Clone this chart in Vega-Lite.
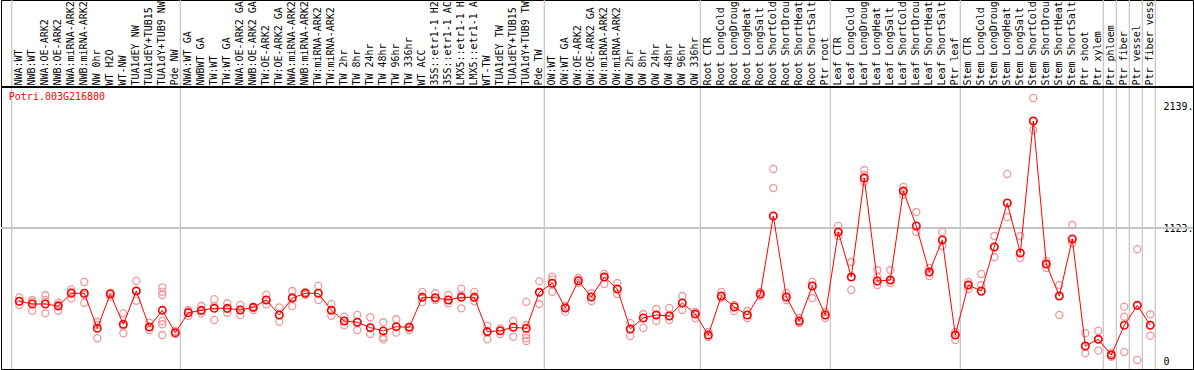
{
  "$schema": "https://vega.github.io/schema/vega-lite/v6.json",
  "width": 1192,
  "height": 369,
  "autosize": "none",
  "padding": {"left": 1, "top": 0, "right": 1, "bottom": 1},
  "background": "white",
  "config": {
    "view": {"stroke": "black", "strokeWidth": 1},
    "font": "DejaVu Sans Mono",
    "axis": {"labelFont": "DejaVu Sans Mono", "labelFontSize": 10, "labelColor": "black"}
  },
  "datasets": {
    "samples": [
      {"id":"NWA:WT","m":509,"r":[542,509,478],"sep":"b"},
      {"id":"NWB:WT","m":486,"r":[520,503,430]},
      {"id":"NWA:OE-ARK2","m":486,"r":[559,520,408]},
      {"id":"NWB:OE-ARK2","m":469,"r":[497,478,430]},
      {"id":"NWA:miRNA-ARK2","m":576,"r":[609,587,531]},
      {"id":"NWB:miRNA-ARK2","m":576,"r":[671,562,497]},
      {"id":"NW 0hr","m":282,"r":[335,310,199]},
      {"id":"WT H2O","m":570,"r":[581,570,547]},
      {"id":"WT-NW","m":316,"r":[408,302,241]},
      {"id":"TUA1dEY NW","m":595,"r":[679,595,514]},
      {"id":"TUA1dEY+TUB15 NW","m":293,"r":[329,293,268]},
      {"id":"TUA1dY+TUB9 NW","m":433,"r":[626,589,562,344,316,226]},
      {"id":"Pde NW","m":246,"r":[260,243,235],"sep":"a"},
      {"id":"NWA:WT GA","m":413,"r":[436,425,386]},
      {"id":"NWBWT GA","m":433,"r":[469,427,408]},
      {"id":"TW:WT","m":450,"r":[526,469,352]},
      {"id":"TW:WT GA","m":450,"r":[492,444,413]},
      {"id":"NWA:OE-ARK2 GA","m":436,"r":[478,436,394]},
      {"id":"NWB:OE-ARK2 GA","m":458,"r":[464,453,436]},
      {"id":"TW:OE-ARK2","m":520,"r":[564,520,484]},
      {"id":"TW:OE-ARK2 GA","m":394,"r":[458,394,338]},
      {"id":"NWA:miRNA-ARK2 GA","m":536,"r":[595,545,469]},
      {"id":"NWB:miRNA-ARK2 GA","m":576,"r":[587,576,562]},
      {"id":"TW:miRNA-ARK2","m":576,"r":[637,578,520]},
      {"id":"TW:miRNA-ARK2 GA","m":433,"r":[484,436,388]},
      {"id":"TW 2hr","m":344,"r":[380,344,308]},
      {"id":"TW 8hr","m":333,"r":[394,335,268]},
      {"id":"TW 24hr","m":288,"r":[375,285,235]},
      {"id":"TW 48hr","m":260,"r":[333,207,190]},
      {"id":"TW 96hr","m":296,"r":[358,293,246]},
      {"id":"TW 336hr","m":291,"r":[296,291,268]},
      {"id":"WT ACC","m":542,"r":[587,545,503]},
      {"id":"35S::etr1-1 H2O","m":539,"r":[576,536,520]},
      {"id":"35S::etr1-1 ACC","m":520,"r":[562,520,492]},
      {"id":"LMX5::etr1-1 H2O","m":542,"r":[614,562,450]},
      {"id":"LMX5::etr1-1 ACC","m":542,"r":[587,545,509]},
      {"id":"WT-TW","m":254,"r":[304,260,190]},
      {"id":"TUA1dEY TW","m":262,"r":[282,260,235]},
      {"id":"TUA1dEY+TUB15 TW","m":291,"r":[344,293,212]},
      {"id":"TUA1dY+TUB9 TW","m":282,"r":[505,310,226,199,176]},
      {"id":"Pde TW","m":584,"r":[676,587,486],"sep":"a"},
      {"id":"OW:WT","m":660,"r":[715,693,589]},
      {"id":"OW:WT GA","m":453,"r":[469,453,422]},
      {"id":"OW:OE-ARK2","m":681,"r":[704,679,662]},
      {"id":"OW:OE-ARK2 GA","m":545,"r":[578,545,511]},
      {"id":"OW:miRNA-ARK2","m":712,"r":[738,712,654]},
      {"id":"OW:miRNA-ARK2 GA","m":612,"r":[662,612,570]},
      {"id":"OW 2hr","m":277,"r":[327,277,218]},
      {"id":"OW 8hr","m":369,"r":[402,369,285]},
      {"id":"OW 24hr","m":394,"r":[444,394,344]},
      {"id":"OW 48hr","m":386,"r":[453,386,352]},
      {"id":"OW 96hr","m":495,"r":[553,495,436]},
      {"id":"OW 336hr","m":402,"r":[419,402,369],"sep":"a"},
      {"id":"Root CTR","m":226,"r":[251,226,210]},
      {"id":"Root LongCold","m":553,"r":[587,553,536]},
      {"id":"Root LongDrought","m":461,"r":[478,461,427]},
      {"id":"Root LongHeat","m":394,"r":[427,394,369]},
      {"id":"Root LongSalt","m":570,"r":[587,570,553]},
      {"id":"Root ShortCold","m":1224,"r":[1618,1458,1224]},
      {"id":"Root ShortDrought","m":545,"r":[578,545,520]},
      {"id":"Root ShortHeat","m":344,"r":[369,344,327]},
      {"id":"Root ShortSalt","m":637,"r":[671,637,536]},
      {"id":"Ptr root","m":394,"r":[419,394,369],"sep":"a"},
      {"id":"Leaf CTR","m":1090,"r":[1140,1090,1056]},
      {"id":"Leaf LongCold","m":712,"r":[838,712,604]},
      {"id":"Leaf LongDrought","m":1542,"r":[1609,1567,1509]},
      {"id":"Leaf LongHeat","m":679,"r":[771,712,645]},
      {"id":"Leaf LongSalt","m":687,"r":[771,687,662]},
      {"id":"Leaf ShortCold","m":1433,"r":[1467,1433,1400]},
      {"id":"Leaf ShortDrought","m":1140,"r":[1257,1140,1090]},
      {"id":"Leaf ShortHeat","m":754,"r":[788,754,721]},
      {"id":"Leaf ShortSalt","m":1023,"r":[1090,1023,972]},
      {"id":"Ptr leaf","m":226,"r":[251,226,184],"sep":"a"},
      {"id":"Stem CTR","m":645,"r":[671,645,612]},
      {"id":"Stem LongCold","m":595,"r":[738,645,587]},
      {"id":"Stem LongDrought","m":964,"r":[1056,964,880]},
      {"id":"Stem LongHeat","m":1333,"r":[1576,1333,1215]},
      {"id":"Stem LongSalt","m":914,"r":[1056,914,872]},
      {"id":"Stem ShortCold","m":2020,"r":[2213,2020,1945]},
      {"id":"Stem ShortDrought","m":821,"r":[847,821,788]},
      {"id":"Stem ShortHeat","m":553,"r":[645,553,394]},
      {"id":"Stem ShortSalt","m":1031,"r":[1148,1031,997]},
      {"id":"Ptr shoot","m":134,"r":[241,134,73]},
      {"id":"Ptr xylem","m":190,"r":[262,190,95],"sep":"a"},
      {"id":"Ptr phloem","m":59,"r":[75,59,44],"sep":"a"},
      {"id":"Ptr fiber","m":308,"r":[464,380,84],"sep":"a"},
      {"id":"Ptr vessel","m":475,"r":[945,475,17],"sep":"a"},
      {"id":"Ptr fiber vessel","m":308,"r":[400,308,220],"sep":"a"}
    ]
  },
  "data": {"name": "samples"},
  "layer": [
    {
      "transform": [{"filter": "datum.sep == 'b'"}],
      "mark": {"type": "rule", "color": "#c4c4c4", "strokeWidth": 1.2},
      "encoding": {
        "x": {"field": "id", "type": "nominal", "sort": null, "bandPosition": -0.08,
              "scale": {"type": "band", "range": [11.8, 1155.8], "paddingInner": 0, "paddingOuter": 0,
                "domain": ["NWA:WT","NWB:WT","NWA:OE-ARK2","NWB:OE-ARK2","NWA:miRNA-ARK2","NWB:miRNA-ARK2","NW 0hr","WT H2O","WT-NW","TUA1dEY NW","TUA1dEY+TUB15 NW","TUA1dY+TUB9 NW","Pde NW","NWA:WT GA","NWBWT GA","TW:WT","TW:WT GA","NWA:OE-ARK2 GA","NWB:OE-ARK2 GA","TW:OE-ARK2","TW:OE-ARK2 GA","NWA:miRNA-ARK2 GA","NWB:miRNA-ARK2 GA","TW:miRNA-ARK2","TW:miRNA-ARK2 GA","TW 2hr","TW 8hr","TW 24hr","TW 48hr","TW 96hr","TW 336hr","WT ACC","35S::etr1-1 H2O","35S::etr1-1 ACC","LMX5::etr1-1 H2O","LMX5::etr1-1 ACC","WT-TW","TUA1dEY TW","TUA1dEY+TUB15 TW","TUA1dY+TUB9 TW","Pde TW","OW:WT","OW:WT GA","OW:OE-ARK2","OW:OE-ARK2 GA","OW:miRNA-ARK2","OW:miRNA-ARK2 GA","OW 2hr","OW 8hr","OW 24hr","OW 48hr","OW 96hr","OW 336hr","Root CTR","Root LongCold","Root LongDrought","Root LongHeat","Root LongSalt","Root ShortCold","Root ShortDrought","Root ShortHeat","Root ShortSalt","Ptr root","Leaf CTR","Leaf LongCold","Leaf LongDrought","Leaf LongHeat","Leaf LongSalt","Leaf ShortCold","Leaf ShortDrought","Leaf ShortHeat","Leaf ShortSalt","Ptr leaf","Stem CTR","Stem LongCold","Stem LongDrought","Stem LongHeat","Stem LongSalt","Stem ShortCold","Stem ShortDrought","Stem ShortHeat","Stem ShortSalt","Ptr shoot","Ptr xylem","Ptr phloem","Ptr fiber","Ptr vessel","Ptr fiber vessel"]},
              "axis": {"orient": "top", "offset": -87, "title": null, "ticks": false, "domain": false, "grid": false, "labelAngle": 270, "labelAlign": "left", "labelBaseline": "middle", "labelPadding": 2, "labelOverlap": false, "labelExpr": "substring(datum.label, 0, 14)"}}
      }
    },
    {
      "transform": [{"filter": "datum.sep == 'a'"}],
      "mark": {"type": "rule", "color": "#c4c4c4", "strokeWidth": 1.2},
      "encoding": {
        "x": {"field": "id", "type": "nominal", "sort": null, "bandPosition": 0.885}
      }
    },
    {
      "mark": {"type": "rule", "color": "#c4c4c4", "strokeWidth": 1.2},
      "encoding": {
        "y": {"datum": 1123, "type": "quantitative",
              "scale": {"domain": [-58.7, 3034.4], "nice": false, "zero": false},
              "axis": {"orient": "right", "offset": -30, "title": null, "ticks": false, "domain": false, "grid": false, "labelPadding": 0, "labelAlign": "left", "values": [0, 1123, 2139], "labelExpr": "datum.value == 0 ? '0' : datum.value + '.'"}}
      }
    },
    {
      "mark": {"type": "rule", "color": "black", "strokeWidth": 1},
      "encoding": {
        "y": {"datum": 2305, "type": "quantitative"}
      }
    },
    {
      "transform": [{"flatten": ["r"]}],
      "mark": {"type": "point", "shape": "circle", "filled": false, "stroke": "#ee9a9a", "strokeWidth": 1.3, "size": 50, "opacity": 1},
      "encoding": {
        "x": {"field": "id", "type": "nominal", "sort": null},
        "y": {"field": "r", "type": "quantitative", "title": null}
      }
    },
    {
      "mark": {"type": "line", "color": "#ff0000", "strokeWidth": 1},
      "encoding": {
        "x": {"field": "id", "type": "nominal", "sort": null},
        "y": {"field": "m", "type": "quantitative", "title": null}
      }
    },
    {
      "mark": {"type": "point", "shape": "circle", "filled": false, "stroke": "#ff0000", "strokeWidth": 1.6, "size": 55, "opacity": 1},
      "encoding": {
        "x": {"field": "id", "type": "nominal", "sort": null},
        "y": {"field": "m", "type": "quantitative", "title": null}
      }
    },
    {
      "transform": [{"filter": "datum.sep == 'b'"}],
      "mark": {"type": "text", "color": "#ff0000", "font": "DejaVu Sans Mono", "fontSize": 10, "align": "left", "baseline": "middle", "dx": -4},
      "encoding": {
        "x": {"field": "id", "type": "nominal", "sort": null, "bandPosition": 0},
        "y": {"datum": 2225, "type": "quantitative"},
        "text": {"value": "Potri.003G216800"}
      }
    }
  ]
}
